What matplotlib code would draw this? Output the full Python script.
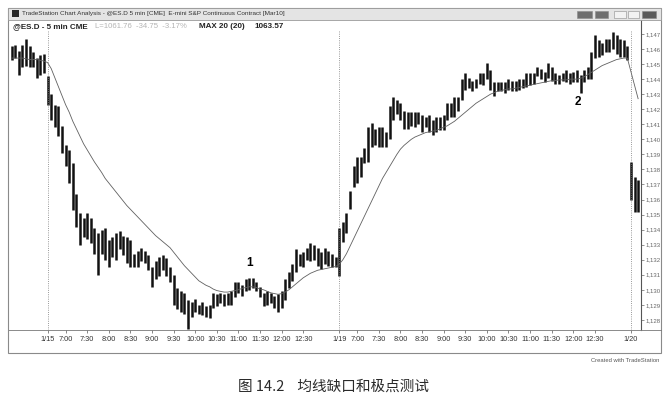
import numpy as np
import matplotlib.pyplot as plt
from matplotlib.patches import Rectangle
from matplotlib.lines import Line2D
from matplotlib.ticker import FuncFormatter

plt.rcParams['font.family'] = ['Liberation Sans', 'Noto Sans CJK SC', 'DejaVu Sans']

# --- Daten (5-min Balken) --------------------------------------------------
# 1/14 Rest (10 Balken), 1/15 Session (81), 1/19 Session (81), 1/20 (3)
highs = [
    1146.2, 1146.3, 1145.9, 1146.3, 1146.7, 1146.2, 1145.8, 1145.4, 1145.6, 1145.7,
    # 1/15
    1144.2, 1143.0, 1142.3, 1142.2, 1140.9, 1139.6, 1139.3, 1138.4, 1136.4, 1135.1,
    1134.8, 1135.1, 1134.8, 1134.1, 1133.8, 1134.0, 1134.1, 1133.3, 1133.5, 1133.8,
    1133.9, 1133.6, 1133.5, 1133.3, 1132.4, 1132.6, 1132.8, 1132.6, 1132.3, 1131.5,
    1131.9, 1132.2, 1132.3, 1132.1, 1131.5, 1131.0, 1130.1, 1129.9, 1129.8, 1129.3,
    1129.2, 1129.4, 1129.0, 1129.2, 1128.9, 1129.0, 1129.8, 1129.7, 1129.8, 1129.7,
    1129.8, 1129.9, 1130.5, 1130.5, 1130.3, 1130.7, 1130.8, 1130.8, 1130.5, 1130.2,
    1129.8, 1129.9, 1129.8, 1129.6, 1129.7, 1129.9, 1130.7, 1131.2, 1131.7, 1132.7,
    1132.4, 1132.5, 1132.8, 1133.1, 1133.0, 1132.8, 1132.5, 1132.8, 1132.6, 1132.4,
    1132.2,
    # 1/19
    1134.1, 1134.5, 1135.1, 1136.6, 1138.2, 1138.8, 1138.8, 1139.4, 1140.8,
    1141.1, 1140.7, 1140.8, 1140.8, 1140.5, 1142.2, 1142.8, 1142.6, 1142.4, 1141.9,
    1141.8, 1141.8, 1141.8, 1141.8, 1141.6, 1141.5, 1141.6, 1141.3, 1141.5, 1141.5,
    1141.6, 1142.4, 1142.4, 1142.8, 1142.8, 1144.0, 1144.4, 1144.1, 1143.9, 1144.0,
    1144.4, 1144.4, 1145.1, 1144.6, 1143.8, 1143.8, 1143.8, 1143.8, 1144.0, 1143.9,
    1143.9, 1144.0, 1144.0, 1144.4, 1144.4, 1144.4, 1144.8, 1144.7, 1144.5, 1145.1,
    1144.8, 1144.4, 1144.3, 1144.4, 1144.6, 1144.4, 1144.5, 1144.6, 1144.3, 1144.6,
    1144.8, 1145.8, 1146.9, 1146.6, 1146.4, 1146.7, 1146.7, 1147.1, 1146.9, 1146.7,
    1146.6, 1146.2,
    # 1/20
    1138.5, 1137.5, 1137.3,
]

lows = [
    1145.3, 1145.4, 1144.3, 1144.8, 1144.9, 1144.8, 1144.8, 1144.1, 1144.3, 1144.4,
    # 1/15
    1142.3, 1141.3, 1140.8, 1140.2, 1139.1, 1138.2, 1137.1, 1135.3, 1134.2, 1133.0,
    1133.5, 1133.4, 1133.1, 1132.4, 1131.0, 1132.4, 1132.0, 1131.5, 1132.2, 1132.0,
    1132.7, 1132.3, 1131.8, 1131.5, 1131.5, 1131.5, 1131.9, 1131.8, 1131.3, 1130.2,
    1130.7, 1130.9, 1131.3, 1130.9, 1130.5, 1129.0, 1128.7, 1128.5, 1128.4, 1127.4,
    1128.2, 1128.5, 1128.4, 1128.3, 1128.2, 1128.1, 1128.8, 1128.9, 1129.1, 1128.9,
    1129.0, 1129.0, 1129.5, 1129.8, 1129.6, 1129.9, 1130.0, 1130.1, 1129.9, 1129.5,
    1128.9, 1129.0, 1129.1, 1128.8, 1128.5, 1128.8, 1129.3, 1130.1, 1130.6, 1131.2,
    1131.6, 1131.5, 1132.0, 1131.9, 1132.0, 1131.6, 1131.4, 1131.7, 1131.6, 1131.5,
    1131.5,
    # 1/19
    1130.9, 1133.2, 1133.8, 1135.4, 1136.8, 1137.1, 1137.5, 1138.4, 1138.5,
    1139.5, 1139.6, 1139.5, 1139.5, 1139.5, 1140.0, 1141.3, 1141.7, 1141.3, 1140.7,
    1140.7, 1140.9, 1140.8, 1141.0, 1140.5, 1140.8, 1140.5, 1140.3, 1140.5, 1140.6,
    1140.6, 1141.3, 1141.5, 1141.5, 1141.9, 1142.6, 1143.3, 1143.4, 1143.2, 1143.4,
    1143.7, 1143.6, 1144.0, 1143.3, 1142.9, 1143.2, 1143.2, 1143.1, 1143.3, 1143.2,
    1143.2, 1143.3, 1143.4, 1143.5, 1143.6, 1143.7, 1144.2, 1144.0, 1143.8, 1144.1,
    1143.9, 1143.7, 1143.7, 1143.9, 1143.8, 1143.7, 1143.8, 1143.8, 1143.1, 1143.8,
    1144.0, 1144.0, 1145.4, 1145.5, 1145.6, 1145.8, 1145.8, 1146.0, 1145.7, 1145.5,
    1145.5, 1145.3,
    # 1/20
    1136.0, 1135.2, 1135.2,
]

ma20 = [
    1145.4, 1145.4, 1145.4, 1145.4, 1145.35, 1145.3, 1145.3, 1145.3, 1145.25, 1145.2,
    1145.1, 1144.7, 1144.1, 1143.5, 1142.9, 1142.3, 1141.8, 1141.2, 1140.7, 1140.2,
    1139.7, 1139.3, 1138.9, 1138.5, 1138.15, 1137.8, 1137.4, 1137.1, 1136.8, 1136.5,
    1136.2, 1135.9, 1135.6, 1135.35, 1135.1, 1134.85, 1134.6, 1134.35, 1134.1, 1133.85,
    1133.6, 1133.4, 1133.2, 1133.0, 1132.8, 1132.5, 1132.2, 1131.9, 1131.6, 1131.35,
    1131.1, 1130.85, 1130.6, 1130.45, 1130.3, 1130.2, 1130.05, 1129.95, 1129.9, 1129.85,
    1129.85, 1129.9, 1129.95, 1130.0, 1130.1, 1130.15, 1130.2, 1130.2, 1130.15, 1130.05,
    1130.0, 1129.9, 1129.8, 1129.75, 1129.7, 1129.75, 1129.85, 1130.0, 1130.2, 1130.4,
    1130.6, 1130.8, 1130.95, 1131.1, 1131.2, 1131.3, 1131.35, 1131.4, 1131.45, 1131.5,
    1131.55, 1131.7, 1132.0, 1132.4, 1132.9, 1133.4, 1133.9, 1134.4, 1134.9, 1135.4,
    1135.9, 1136.4, 1136.9, 1137.4, 1137.8, 1138.2, 1138.6, 1139.0, 1139.35, 1139.6,
    1139.8, 1140.0, 1140.15, 1140.25, 1140.35, 1140.45, 1140.5, 1140.55, 1140.6, 1140.7,
    1140.8, 1140.9, 1141.05, 1141.2, 1141.4, 1141.6, 1141.8, 1142.0, 1142.2, 1142.4,
    1142.55, 1142.7, 1142.85, 1143.0, 1143.1, 1143.2, 1143.25, 1143.3, 1143.35, 1143.35,
    1143.4, 1143.45, 1143.5, 1143.55, 1143.6, 1143.65, 1143.7, 1143.75, 1143.8, 1143.85,
    1143.9, 1143.9, 1143.95, 1143.95, 1143.95, 1144.0, 1144.0, 1144.0, 1144.05, 1144.15,
    1144.3, 1144.45, 1144.6, 1144.75, 1144.9, 1145.0, 1145.1, 1145.2, 1145.3, 1145.35,
    1145.4, 1145.4, 1144.5, 1143.6, 1142.7,
]

session_starts = [10, 91, 172]
session_dates = ['1/15', '1/19', '1/20']
half_hours = ['7:00', '7:30', '8:00', '8:30', '9:00', '9:30', '10:00', '10:30',
              '11:00', '11:30', '12:00', '12:30']
price_ticks = list(range(1128, 1148))

marks = {'1': 66, '2': 158}   # Beschriftete Balken

# --- Figur -----------------------------------------------------------------
W, H = 668, 403


def fx(x):
    return x / W


def fy(y):
    return 1 - y / H


fig = plt.figure(figsize=(W / 100, H / 100), dpi=100)
fig.patch.set_facecolor('white')

# Fensterrahmen + Titelleiste
fig.add_artist(Rectangle((fx(8), fy(353)), (661 - 8) / W, (353 - 8) / H,
                         transform=fig.transFigure, fill=False, ec='#8a8a8a', lw=0.8))
fig.add_artist(Rectangle((fx(8), fy(20)), (661 - 8) / W, 12 / H,
                         transform=fig.transFigure, fc='#e4e4e4', ec='#9a9a9a', lw=0.6))
fig.add_artist(Rectangle((fx(12), fy(17)), 7 / W, 7 / H,
                         transform=fig.transFigure, fc='#262626', ec='none'))
fig.text(fx(22), fy(13.5), 'TradeStation Chart Analysis - @ES.D 5 min [CME]  '
         'E-mini S&P Continuous Contract [Mar10]', fontsize=4.6, color='#333333',
         va='center')
for x0, w, fc in [(577, 15, '#6e6e6e'), (595, 13, '#6e6e6e'), (614, 12, '#f2f2f2'),
                  (628, 11, '#f2f2f2'), (642, 14, '#5a5a5a')]:
    fig.add_artist(Rectangle((fx(x0), fy(18)), w / W, 7 / H, transform=fig.transFigure,
                             fc=fc, ec='#8a8a8a', lw=0.4))

ax = fig.add_axes([fx(8), fy(330), (641 - 8) / W, (330 - 20) / H])
x = np.arange(len(highs))

ax.vlines(x, lows, highs, color='#111111', lw=1.8)
ax.plot(x, ma20, color='#606060', lw=0.6)

ylo, yhi = 1127.33, 1147.93
ax.vlines(session_starts, ylo, 1147.27, color='#777777', lw=0.6, linestyles=':')

for lab, i in marks.items():
    if lab == '1':
        ax.annotate(lab, (i, highs[i]), xytext=(0, 11), textcoords='offset points',
                    ha='center', va='center', fontsize=8.5, fontweight='bold')
    else:
        ax.annotate(lab, (i, lows[i]), xytext=(-2, -7), textcoords='offset points',
                    ha='center', va='center', fontsize=8.5, fontweight='bold')

ax.set_xlim(-1.0, 174.8)
ax.set_ylim(ylo, yhi)

tick_pos, tick_lab = [], []
for s, d in zip(session_starts, session_dates):
    tick_pos.append(s)
    tick_lab.append(d)
    if s + 5 + 6 * 11 < len(highs):
        for k, hh in enumerate(half_hours):
            tick_pos.append(s + 5 + 6 * k)
            tick_lab.append(hh)
ax.set_xticks(tick_pos)
ax.set_xticklabels(tick_lab)
ax.tick_params(axis='x', length=2.5, width=0.5, color='#555555', labelsize=5.3,
               labelcolor='#333333', pad=2)

ax.yaxis.tick_right()
ax.set_yticks(price_ticks)
ax.yaxis.set_major_formatter(FuncFormatter(lambda v, p: f'{v:,.0f}'))
ax.tick_params(axis='y', length=2, width=0.5, color='#666666', labelsize=4.3,
               labelcolor='#666666', pad=1)

for side in ['top', 'left']:
    ax.spines[side].set_visible(False)
ax.spines['right'].set_color('#555555')
ax.spines['right'].set_linewidth(0.8)
ax.spines['bottom'].set_color('#777777')
ax.spines['bottom'].set_linewidth(0.6)
fig.add_artist(Line2D([fx(641), fx(661)], [fy(330), fy(330)], transform=fig.transFigure,
                      color='#777777', lw=0.6))

# Kopfzeile im Chart
fig.text(fx(13), fy(27), '@ES.D - 5 min CME', fontsize=5.8, fontweight='bold',
         color='#222222', va='center')
fig.text(fx(95), fy(27), 'L=1061.76  -34.75  -3.17%', fontsize=5.6, color='#b4b4b4',
         va='center')
fig.text(fx(199), fy(27), 'MAX 20 (20)', fontsize=5.8, fontweight='bold',
         color='#222222', va='center')
fig.text(fx(254), fy(27), '1063.57', fontsize=5.8, fontweight='bold',
         color='#222222', va='center')

fig.text(fx(659), fy(360), 'Created with TradeStation', fontsize=4.2, color='#555555',
         ha='right', va='center')

fig.text(fx(333), fy(387), '图 14.2    均线缺口和极点测试', fontsize=10.5, color='#2a2a2a',
         ha='center', va='center', family=['Noto Sans CJK SC', 'DejaVu Sans'])

fig.savefig('out.png', dpi=100)
